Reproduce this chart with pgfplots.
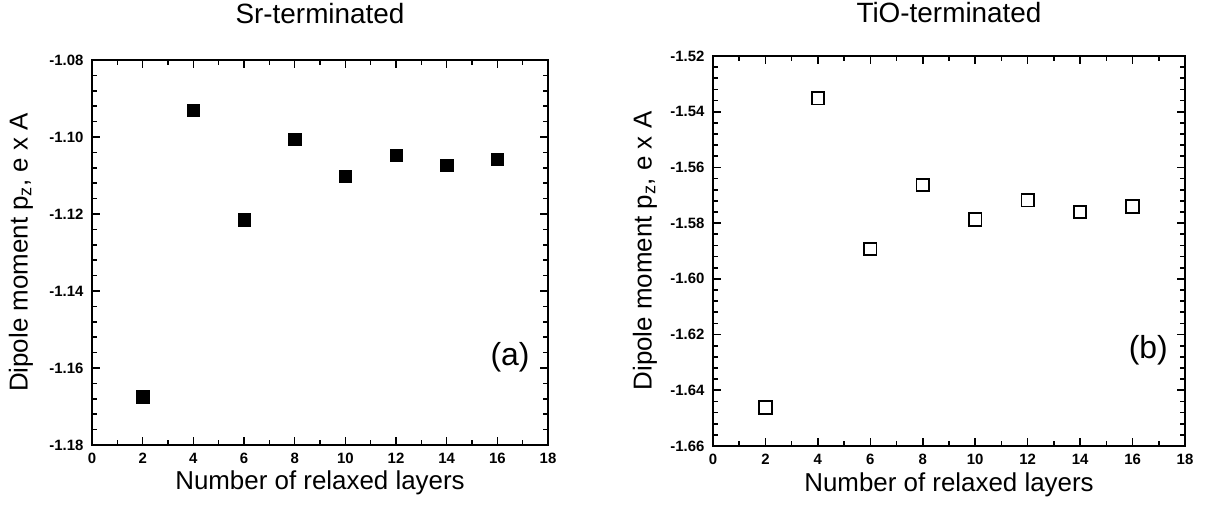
\documentclass[border=0pt]{standalone}
\usepackage{fontspec}
\setmainfont{Liberation Sans}
\usepackage{pgfplots}
\pgfplotsset{compat=1.18}

\pgfplotsset{
  dipole/.style={
    scale only axis,
    xmin=0, xmax=18,
    xtick={0,2,...,18},
    minor x tick num=1,
    minor y tick num=4,
    tick align=inside,
    axis line style={line width=1.8bp},
    major tick length=8bp,
    minor tick length=5bp,
    every tick/.style={line width=1.6bp, black},
    every tick label/.append style={font=\fontsize{15}{17}\selectfont\bfseries},
    xticklabel style={text height=11bp, text depth=0bp, yshift=-4bp},
    yticklabel style={xshift=-5bp, /pgf/number format/fixed, /pgf/number format/precision=2, /pgf/number format/fixed zerofill},
    /pgf/number format/assume math mode=true,
    scaled y ticks=false,
    xlabel={Number of relaxed layers},
    ylabel={Dipole moment p\textsubscript{z}, e x A},
    label style={font=\fontsize{26}{30}\selectfont},
    title style={font=\fontsize{28}{32}\selectfont, anchor=center},
    xlabel style={anchor=center},
    ylabel style={anchor=center},
  }
}

\begin{document}
\begin{tikzpicture}
\path[use as bounding box] (0,0) rectangle (1217bp,513bp);

\begin{axis}[dipole,
  at={(92bp,68bp)}, anchor=south west,
  width=456bp, height=385bp,
  ymin=-1.18, ymax=-1.08,
  ytick={-1.18,-1.16,...,-1.08},
  title={Sr-terminated},
  title style={at={(axis description cs:0.5,1.105)}},
  xlabel style={at={(axis description cs:0.5,-0.098)}},
  ylabel style={at={(axis description cs:-0.156,0.5)}},
]
\addplot[only marks, mark=square*, mark size=6.2bp, black] coordinates {
  (2,-1.1675) (4,-1.0930) (6,-1.1215) (8,-1.1005)
  (10,-1.1102) (12,-1.1047) (14,-1.1073) (16,-1.1058)
};
\node[font=\fontsize{32}{36}\selectfont] at (axis cs:16.5,-1.1571) {(a)};
\end{axis}

\begin{axis}[dipole,
  at={(713bp,67bp)}, anchor=south west,
  width=472bp, height=390bp,
  ymin=-1.66, ymax=-1.52,
  ytick={-1.66,-1.64,...,-1.52},
  title={TiO-terminated},
  title style={at={(axis description cs:0.5,1.097)}},
  xlabel style={at={(axis description cs:0.5,-0.099)}},
  ylabel style={at={(axis description cs:-0.144,0.5)}},
]
\addplot[only marks, mark=square, mark size=6.2bp, mark options={line width=1.8bp}, black] coordinates {
  (2,-1.6462) (4,-1.5352) (6,-1.5893) (8,-1.5663)
  (10,-1.5787) (12,-1.5718) (14,-1.5760) (16,-1.5740)
};
\node[font=\fontsize{32}{36}\selectfont] at (axis cs:16.6,-1.6255) {(b)};
\end{axis}
\end{tikzpicture}
\end{document}
